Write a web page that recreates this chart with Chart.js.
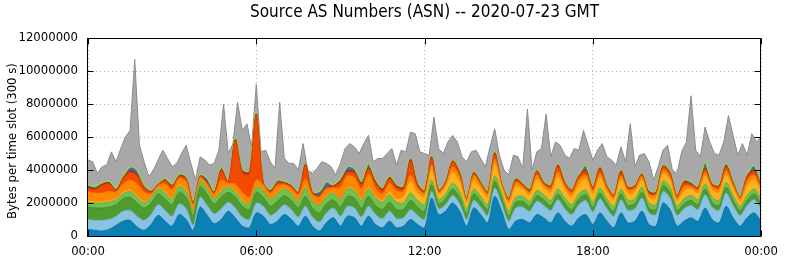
<!DOCTYPE html>
<html>
<head>
<meta charset="utf-8">
<script src="https://cdn.jsdelivr.net/npm/chart.js@4/dist/chart.umd.min.js"></script>
<style>
  html, body { margin: 0; padding: 0; background: #fff; }
  canvas { display: block; }
</style>
</head>
<body>
<canvas id="chart" width="786" height="261"></canvas>
<script>
// values in millions of bytes per 300 s slot
// AS layers are read every 15 minutes, the grey total every 10 minutes
const layerStepMin = 15;
const totalStepMin = 10;

const tealMB = [
  .4,.35,.3,.4,.65,.9,.95,.55,.35,.7,1.25,.9,.6,1.3,1.0,.35,1.75,1.25,.75,1.0,1.5,1.1,.6,.5,1.4,
  1.2,.7,.9,1.3,1.0,.6,1.2,.6,.3,.8,1.1,.6,1.2,1.1,.6,1.2,.7,.5,.9,.5,.6,1.0,.7,.5,
  2.3,1.3,1.5,2.0,1.5,.6,1.7,1.3,.8,2.4,1.5,.4,.9,1.0,.8,1.3,1.1,.8,1.4,.9,.6,1.1,1.3,.7,
  1.4,.9,.5,1.4,.8,.9,1.5,.7,.6,2.0,1.6,.6,.9,1.1,.9,1.7,1.0,.8,1.8,1.1,.6,1.1,1.4,.9
];
const lightBlueMB = [
  .6,.6,.65,.6,.55,.6,.6,.65,.6,.6,.65,.65,.6,.65,.65,.3,.6,.6,.6,.65,.55,.6,.55,.5,.6,
  .6,.55,.6,.6,.6,.55,.6,.55,.55,.6,.6,.6,.6,.6,.55,.6,.6,.55,.6,.55,.5,.6,.55,.5,
  .4,.35,.4,.45,.45,.4,.45,.45,.45,.5,.45,.5,.8,.75,.7,.8,.75,.75,.8,.75,.7,.8,.85,.75,
  .85,.75,.7,.8,.75,.75,.8,.7,.7,.7,.7,.65,.75,.75,.7,.8,.75,.75,.8,.75,.65,.75,.8,.75
];
const greenMB = [
  .75,.75,.75,.75,.7,.75,.8,.8,.75,.7,.65,.7,.7,.7,.7,.6,.65,.65,.6,.7,.6,.65,.65,.6,.65,
  .55,.55,.6,.55,.55,.55,.6,.55,.55,.55,.5,.55,.6,.6,.55,.6,.55,.55,.55,.55,.5,.55,.5,.5,
  .4,.3,.35,.4,.4,.35,.4,.35,.35,.4,.35,.3,.35,.35,.3,.35,.35,.3,.35,.35,.3,.35,.35,.3,
  .35,.3,.3,.35,.3,.3,.35,.3,.3,.35,.35,.3,.3,.3,.3,.35,.3,.3,.35,.3,.3,.3,.35,.3
];
const lightGreenMB = [
  .3,.3,.3,.3,.3,.3,.35,.35,.3,.3,.3,.35,.3,.35,.35,.3,.3,.3,.3,.35,.3,.3,.3,.3,.3,
  .4,.4,.45,.4,.4,.4,.5,.4,.45,.45,.4,.45,.45,.45,.45,.45,.45,.45,.45,.45,.4,.45,.4,.4,
  .3,.25,.3,.35,.35,.3,.3,.3,.3,.35,.3,.3,.3,.3,.3,.3,.3,.3,.3,.3,.3,.3,.3,.3,
  .3,.3,.3,.3,.3,.3,.3,.3,.3,.3,.3,.25,.3,.3,.3,.3,.3,.3,.3,.3,.25,.3,.3,.3
];
const yellowMB = [
  .1,.1,.1,.1,.1,.1,.1,.1,.1,.05,.05,.1,.1,.1,.1,.05,.05,.05,.05,.1,.05,.1,.1,.05,.05,
  .05,.05,.05,.05,.05,.05,.05,.05,.05,.05,.05,.05,.1,.1,.1,.1,.1,.1,.2,.2,.4,.7,.45,.5,
  .6,.35,.45,.65,.6,.4,.55,.5,.45,.7,.4,.5,.65,.45,.4,.7,.45,.5,.75,.55,.5,.6,.65,.5,
  .65,.45,.4,.6,.45,.45,.45,.35,.4,.45,.45,.35,.5,.4,.4,.5,.45,.5,.5,.45,.35,.6,.6,.45
];
const orangeMB = [
  .55,.5,.5,.55,.35,.5,.6,.7,.55,.2,.15,.45,.5,.4,.5,.3,.2,.3,.25,.6,.2,.4,.45,.4,.4,
  .3,.35,.45,.2,.3,.35,.5,.35,.45,.4,.25,.7,.7,.7,.6,.8,.5,.4,.5,.5,.3,.4,.3,.2,
  .3,.1,.15,.35,.3,.15,.25,.2,.2,.3,.1,.15,.25,.15,.15,.25,.15,.2,.3,.2,.2,.25,.25,.2,
  .25,.2,.15,.2,.2,.2,.2,.15,.2,.2,.2,.15,.25,.15,.2,.2,.2,.2,.2,.2,.15,.3,.25,.2
];
const redMB = [
  .2,.2,.45,.45,.1,.3,.45,.5,.25,.1,.05,.2,.2,.1,.15,.1,.05,.05,.05,.55,.05,2.6,1.2,1.4,3.9,
  .1,.1,.15,.1,.1,.1,.8,.1,.1,.1,.1,.3,.2,.25,.25,.3,.3,.2,.25,.2,.15,.8,.15,.1,
  .4,.1,.1,.3,.2,.05,.15,.1,.1,.3,.05,.1,.15,.1,.1,.2,.1,.15,.3,.15,.15,.2,.2,.15,
  .25,.1,.1,.2,.1,.1,.1,.1,.1,.2,.2,.1,.2,.1,.1,.2,.1,.15,.25,.1,.05,.2,.2,.1
];
const darkRedMB = [
  .08,.08,.08,.08,.05,.08,.1,.1,.08,.05,.03,.05,.05,.05,.05,.05,.05,.05,.05,.1,.03,.1,.1,.1,.1,
  .05,.05,.05,.05,.05,.05,.1,.05,.05,.05,.05,.1,.1,.1,.1,.1,.1,.1,.1,.1,.1,.15,.1,.05,
  .1,.03,.03,.05,.05,.03,.05,.05,.03,.1,.05,.03,.05,.05,.05,.05,.05,.05,.1,.05,.03,.05,.1,.05,
  .1,.05,.03,.1,.05,.05,.05,.05,.05,.05,.05,.05,.1,.05,.05,.1,.05,.05,.1,.05,.03,.1,.1,.05
];
const blueMB = [
  .12,.12,.1,.1,.1,.1,.25,.25,.1,.05,.02,.1,.1,.1,.1,.05,.05,.25,.1,.15,.02,.1,.1,.1,.15,
  .05,.05,.15,.05,.05,.05,.05,.05,.2,.3,.05,.15,.25,.2,.1,.25,.1,.05,.05,.05,.05,.05,.05,.05,
  .1,.02,.02,.05,.05,.02,.05,.05,.02,.05,.1,.02,.05,.05,.1,.05,.05,.05,.1,.05,.02,.05,.3,.05,
  .05,.05,.02,.05,.05,.05,.05,.15,.05,.05,.05,.05,.1,.15,.05,.35,.05,.05,.1,.05,.02,.05,.3,.05
];
const totalMB = [
  4.6,4.5,3.8,4.2,4.3,5.1,4.5,5.3,6.0,6.4,10.7,5.5,4.5,3.6,4.0,4.6,5.2,4.7,4.2,4.4,5.0,5.5,4.4,3.4,
  4.8,4.6,4.3,4.4,5.2,8.0,5.0,5.6,8.1,6.4,6.8,5.4,9.2,
  5.1,5.2,4.5,4.1,8.1,4.7,4.4,4.4,4.0,5.6,4.0,3.8,4.1,4.5,4.4,4.2,3.7,4.4,
  5.3,5.6,5.4,5.0,5.6,6.1,4.5,4.7,4.7,5.0,5.3,4.3,5.2,5.1,6.3,6.2,5.1,5.0,
  4.9,7.2,5.3,5.0,5.7,6.1,5.7,4.8,4.5,5.1,5.2,4.7,4.2,5.4,6.5,4.9,4.0,3.7,
  4.9,4.8,4.1,7.7,4.0,5.1,5.3,7.4,4.8,5.7,5.5,4.9,4.7,5.3,5.2,6.4,5.5,4.6,
  5.2,5.6,4.8,4.6,4.3,5.4,4.5,6.8,4.2,4.9,5.0,4.5,3.4,4.2,5.2,5.5,4.0,3.8,
  5.1,5.7,8.5,5.2,4.8,6.6,5.7,5.0,4.9,5.7,7.3,6.1,4.9,5.6,4.9,6.2,5.7,6.0
];

const yTicks = [0, 2000000, 4000000, 6000000, 8000000, 10000000, 12000000];
const hourTicks = [0, 6, 12, 18, 24];
const titleText = 'Source AS Numbers (ASN) -- 2020-07-23 GMT';
const yTitleText = 'Bytes per time slot (300 s)';

const FONT = "'DejaVu Sans Condensed', 'DejaVu Sans', sans-serif";

// bottom to top
const layers = [
  { data: tealMB,       fill: '#0a80b4', line: '#0b6e98' },
  { data: lightBlueMB,  fill: '#88c3e3', line: '#74aed0' },
  { data: greenMB,      fill: '#4f9b2d', line: '#438a25' },
  { data: lightGreenMB, fill: '#72c052', line: '#5fae42' },
  { data: yellowMB,     fill: '#ffb21e', line: '#f5a312' },
  { data: orangeMB,     fill: '#ff8600', line: '#f27a00' },
  { data: redMB,        fill: '#f24a00', line: '#e04000' },
  { data: darkRedMB,    fill: '#b52e05', line: '#a82a04' },
  { data: blueMB,       fill: '#4269c2', line: '#9ad24a', width: 1.5 }
];

const toPoints = (arr, stepMin) => arr.map((v, i) => ({ x: i * stepMin / 60, y: v * 1e6 }));

const datasets = [{
  data: toPoints(totalMB, totalStepMin),
  stack: 'total',
  order: 1,
  fill: 'origin',
  tension: 0,
  backgroundColor: '#a8a8a8',
  borderColor: '#8b8b8b',
  borderWidth: 1
}];
layers.forEach((l, i) => {
  datasets.push({
    data: toPoints(l.data, layerStepMin),
    stack: 'asn',
    order: 0,
    fill: i === 0 ? 'origin' : '-1',
    tension: 0.3,
    backgroundColor: l.fill,
    borderColor: l.line,
    borderWidth: l.width || 0.8
  });
});

// black frame with small inward tick marks on every side, titles
const frame = {
  id: 'frame',
  afterDatasetsDraw(chart) {
    const { ctx, chartArea: a, scales: { x, y } } = chart;
    const L = Math.round(a.left) - 0.5, R = Math.round(a.right) - 0.5;
    const T = Math.round(a.top) + 0.5, B = Math.round(a.bottom) + 0.5;
    ctx.save();
    ctx.strokeStyle = '#000';
    ctx.lineWidth = 1;
    ctx.beginPath();
    yTicks.forEach(v => {
      const py = Math.round(y.getPixelForValue(v)) + 0.5;
      ctx.moveTo(L, py); ctx.lineTo(L + 6, py);
      ctx.moveTo(R, py); ctx.lineTo(R - 6, py);
    });
    hourTicks.forEach(h => {
      const px = Math.round(x.getPixelForValue(h)) + 0.5;
      ctx.moveTo(px, T); ctx.lineTo(px, T + 6);
      ctx.moveTo(px, B); ctx.lineTo(px, B - 6);
    });
    ctx.stroke();
    ctx.strokeRect(L, T, R - L, B - T);

    ctx.fillStyle = '#000';
    ctx.textAlign = 'center';
    ctx.textBaseline = 'middle';
    ctx.font = '17px ' + FONT;
    ctx.fillText(titleText, (a.left + a.right) / 2, 13);

    ctx.font = '13px ' + FONT;
    ctx.translate(12.5, 141);
    ctx.rotate(-Math.PI / 2);
    ctx.fillText(yTitleText, 0, 0);
    ctx.restore();
  }
};

new Chart(document.getElementById('chart'), {
  type: 'line',
  data: { datasets },
  options: {
    responsive: false,
    animation: false,
    events: [],
    devicePixelRatio: 1,
    layout: { padding: { left: 0, right: 18, top: 38, bottom: 0 } },
    elements: {
      point: { radius: 0 }
    },
    plugins: {
      legend: { display: false },
      tooltip: { enabled: false },
      title: { display: false }
    },
    scales: {
      x: {
        type: 'linear',
        min: 0,
        max: 24,
        afterFit: s => { s.height = 25; },
        afterBuildTicks: s => { s.ticks = hourTicks.map(v => ({ value: v })); },
        ticks: {
          autoSkip: false,
          maxRotation: 0,
          padding: 8,
          color: '#000',
          font: { family: FONT, size: 13 },
          callback: v => String(v % 24).padStart(2, '0') + ':00'
        },
        grid: { color: '#b4b4b4', drawTicks: false, lineWidth: 1 },
        border: { display: false, dash: [1, 3] }
      },
      y: {
        stacked: true,
        min: 0,
        max: 12000000,
        afterFit: s => { s.width = 88; },
        afterBuildTicks: s => { s.ticks = yTicks.map(v => ({ value: v })); },
        ticks: {
          padding: 10,
          color: '#000',
          font: { family: FONT, size: 13 },
          callback: v => String(v)
        },
        grid: { color: '#b4b4b4', drawTicks: false, lineWidth: 1 },
        border: { display: false, dash: [1, 3] }
      }
    }
  },
  plugins: [frame]
});
</script>
</body>
</html>
